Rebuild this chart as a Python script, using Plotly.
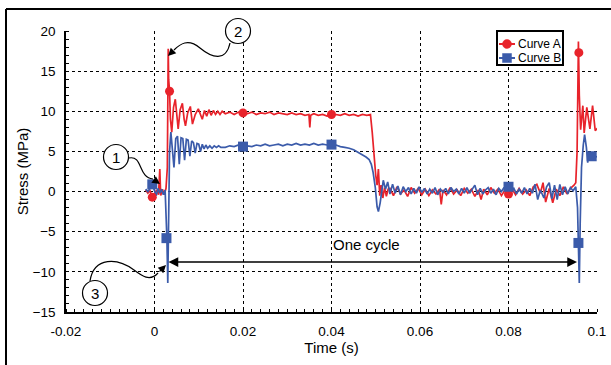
import plotly.graph_objects as go

# ---------------- data ----------------
t_a = [-0.0020, -0.0015, -0.0010, -0.0005, 0.0000, 0.0005, 0.0009, 0.0012, 0.0014, 0.0018, 0.0022, 0.0026,
       0.0029, 0.0031, 0.0032, 0.0034, 0.0036, 0.0039, 0.0043, 0.0047, 0.0051, 0.00535, 0.0058, 0.0063,
       0.0067, 0.0070, 0.0075, 0.0081, 0.00858, 0.0092, 0.0099, 0.0108, 0.0113, 0.0118, 0.0123, 0.0128,
       0.0133, 0.0138, 0.0143, 0.0148, 0.0153, 0.0158,
       0.016, 0.017, 0.018, 0.019, 0.020, 0.021, 0.022, 0.023, 0.024, 0.025, 0.026, 0.027, 0.028, 0.029,
       0.030, 0.031, 0.032, 0.033, 0.034, 0.0349, 0.0351, 0.0353, 0.036, 0.037, 0.038, 0.039, 0.040,
       0.041, 0.042, 0.043, 0.044, 0.045, 0.046, 0.047, 0.048, 0.0488, 0.0492, 0.0496, 0.0500, 0.0503,
       0.0506, 0.0509, 0.0512, 0.0516, 0.0520, 0.0524, 0.0528,
       0.0532, 0.0540, 0.0548, 0.0556, 0.0564, 0.0572, 0.0580, 0.0588, 0.0596, 0.0604, 0.0612, 0.0620,
       0.0628, 0.0636, 0.0644, 0.0648, 0.0652, 0.0660, 0.0668, 0.0676, 0.0684, 0.0692, 0.0700, 0.0708,
       0.0716, 0.0724, 0.0732, 0.0738, 0.0744, 0.0752, 0.0760, 0.0768, 0.0776, 0.0784, 0.0792, 0.0800,
       0.0808, 0.0816, 0.0824, 0.0832, 0.0840, 0.0848, 0.0856, 0.0864, 0.0872, 0.0878, 0.0884, 0.0892,
       0.0900, 0.0908, 0.0916, 0.0924, 0.0932, 0.0940, 0.0948,
       0.0952, 0.0955, 0.0958, 0.0960, 0.0963, 0.0968, 0.0971, 0.0977, 0.0984, 0.0990, 0.0996, 0.1003]
v_a = [0.2, -0.2, 0.1, -0.7, -0.3, 0.2, -0.4, 2.8, -0.5, 0.3, -0.4, 0.4,
       3.0, 17.8, 14.0, 12.5, 9.0, 7.4, 10.5, 11.5, 8.5, 7.8, 10.2, 11.0,
       9.0, 8.2, 9.8, 10.6, 8.4, 9.6, 10.3, 9.0, 10.1, 9.4, 10.2, 9.5,
       10.1, 9.6, 10.0, 9.6, 10.0, 9.7,
       9.7, 9.9, 9.6, 9.9, 9.8, 9.7, 9.9, 9.6, 9.8, 9.7, 9.9, 9.6, 9.8, 9.7,
       9.6, 9.8, 9.6, 9.7, 9.5, 9.6, 8.0, 9.5, 9.7, 9.5, 9.6, 9.4, 9.5,
       9.6, 9.5, 9.7, 9.5, 9.6, 9.4, 9.6, 9.5, 9.6, 7.4, 4.5, 2.0, 0.8,
       2.8, -0.5, 0.8, -0.8, 0.5, -0.6, 0.3,
       0.4, -0.5, 0.6, -0.3, 0.2, -0.6, 0.5, -0.2, 0.4, -0.4, 0.3, -0.5,
       0.2, -0.3, 0.3, -1.6, 0.2, -0.4, 0.5, -0.3, 0.2, -0.5, 0.4, -0.2,
       0.3, -0.6, 0.2, -1.0, 0.3, -0.4, 0.5, -0.2, 0.3, -0.5, 0.2, -0.3,
       0.3, -0.4, 0.4, -0.3, 0.2, -0.5, 0.6, 0.9, -0.2, 1.1, -1.3, 0.4,
       -1.4, 0.3, -0.5, 0.6, -0.3, 0.4, 0.8,
       1.1, 5.0, 18.7, 12.0, 7.7, 10.7, 7.3, 10.5, 7.8, 10.7, 7.6, 8.0]

t_b = [-0.0020, -0.0015, -0.0010, -0.0005, 0.0000, 0.0004, 0.0008, 0.0012, 0.0016, 0.0020, 0.0024,
       0.0026, 0.0028, 0.0030, 0.0032, 0.0034, 0.0037, 0.0040, 0.0044, 0.0048, 0.0052, 0.0056, 0.0060,
       0.0064, 0.0068, 0.0072, 0.0076, 0.0080, 0.0084, 0.0088, 0.0092, 0.0096, 0.0100, 0.0104, 0.0108,
       0.0112, 0.0116, 0.0120, 0.0125, 0.0130, 0.0135, 0.0140, 0.0145, 0.0150,
       0.016, 0.017, 0.018, 0.019, 0.020, 0.021, 0.022, 0.023, 0.024, 0.025, 0.026, 0.027, 0.028,
       0.029, 0.030, 0.031, 0.032, 0.033, 0.034, 0.035, 0.036, 0.037, 0.038, 0.039, 0.040, 0.041,
       0.042, 0.043, 0.044, 0.045, 0.046, 0.047, 0.0478, 0.0485, 0.0490, 0.0494, 0.0499, 0.0503,
       0.0506, 0.0510, 0.0514,
       0.0517, 0.0522, 0.0527, 0.0532, 0.0538, 0.0544, 0.0550, 0.0556, 0.0562, 0.0568, 0.0574, 0.0580,
       0.0586, 0.0592, 0.0598, 0.0604, 0.0610, 0.0616, 0.0622, 0.0628, 0.0634, 0.0640, 0.0646, 0.0652,
       0.0658, 0.0664, 0.0670, 0.0676, 0.0682, 0.0688, 0.0694, 0.0700, 0.0706, 0.0712, 0.0718, 0.0724,
       0.0730, 0.0736, 0.0742, 0.0748, 0.0754, 0.0760, 0.0766, 0.0772, 0.0778, 0.0784, 0.0790, 0.0796,
       0.0800, 0.0806, 0.0812, 0.0818, 0.0824, 0.0830, 0.0836, 0.0842, 0.0848, 0.0854, 0.0860, 0.0866,
       0.0872, 0.0880, 0.0886, 0.0892, 0.0898, 0.0904, 0.0910, 0.0916, 0.0922, 0.0928, 0.0934, 0.0940,
       0.0946, 0.0952,
       0.0956, 0.0958, 0.0960, 0.0962, 0.0965, 0.0969, 0.0972, 0.0976, 0.0979, 0.0982, 0.0986, 0.0988,
       0.0995, 0.1003]
v_b = [0.3, 0.0, 0.4, 0.9, 0.1, -0.5, 0.4, -0.2, 0.3, -0.4, 0.2,
       -2.0, -5.8, -11.4, -1.0, 5.0, 7.4, 5.5, 3.0, 6.6, 6.9, 3.4, 6.7,
       6.6, 3.9, 6.5, 6.4, 4.4, 6.3, 6.1, 4.8, 6.0, 5.9, 5.0, 5.9,
       5.3, 5.8, 5.4, 5.7, 5.4, 5.7, 5.5, 5.7, 5.5,
       5.5, 5.7, 5.6, 5.8, 5.6, 5.7, 5.6, 5.8, 5.7, 5.9, 5.7, 5.8, 5.9,
       5.7, 5.9, 5.8, 6.0, 5.8, 5.9, 5.8, 6.0, 5.8, 5.9, 5.8, 5.85, 5.8,
       5.6, 5.5, 5.4, 5.2, 4.9, 4.5, 4.3, 4.0, 3.4, 2.4, 0.5, -1.9,
       -2.5, -1.4, 0.5,
       1.4, 0.3, 1.2, -0.3, 0.9, -0.2, 0.7, -0.4, 0.6, 0.0, 0.5, -0.3,
       0.4, -0.2, 0.6, -0.1, 0.4, -0.3, 0.3, -0.2, 0.5, -0.4, 0.3, -0.1,
       0.4, -0.3, 0.5, 0.0, 0.3, -0.3, 0.4, -0.2, 0.5, -0.2, 0.3, 0.8,
       -0.4, 0.4, -0.3, 0.2, 0.5, -0.2, 0.3, -0.4, 0.4, 0.0, 0.5, -0.2,
       0.6, 0.0, 0.4, -0.3, 0.3, -0.2, 0.5, -0.3, 0.4, -0.2, 0.9, -1.0,
       0.2, -0.8, 0.6, 1.1, -0.9, 0.8, -1.0, 0.9, -0.4, 0.6, -0.3, 0.5,
       0.1, 0.6,
       -2.0, -6.4, -11.4, -4.0, 3.0, 5.8, 7.1, 5.5, 3.6, 4.9, 4.2, 4.4,
       4.3, 4.4]

mark_t_a = [-0.0005, 0.0034, 0.02, 0.04, 0.08, 0.0959, 0.1003]
mark_v_a = [-0.7, 12.5, 9.8, 9.6, -0.3, 17.3, 8.0]
mark_t_b = [-0.0005, 0.0027, 0.02, 0.04, 0.08, 0.0958, 0.0988]
mark_v_b = [0.9, -5.8, 5.6, 5.85, 0.6, -6.4, 4.4]

series_names = ["Curve A", "Curve B"]
x_ticks = [-0.02, 0, 0.02, 0.04, 0.06, 0.08, 0.1]
x_tick_text = ["-0.02", "0", "0.02", "0.04", "0.06", "0.08", "0.1"]
y_ticks = [-15, -10, -5, 0, 5, 10, 15, 20]

RED = "#E8232B"
BLUE = "#3B5BAA"
FONT = "Liberation Sans, Arial, sans-serif"

fig = go.Figure()
fig.add_trace(go.Scatter(x=t_a, y=v_a, mode="lines", line=dict(color=RED, width=1.7),
                         name=series_names[0], showlegend=False, hoverinfo="skip"))
fig.add_trace(go.Scatter(x=t_b, y=v_b, mode="lines", line=dict(color=BLUE, width=1.7),
                         name=series_names[1], showlegend=False, hoverinfo="skip"))
fig.add_trace(go.Scatter(x=mark_t_a, y=mark_v_a, mode="markers", cliponaxis=False, name=series_names[0],
                         marker=dict(symbol="circle", size=9, color=RED), showlegend=False))
fig.add_trace(go.Scatter(x=mark_t_b, y=mark_v_b, mode="markers", cliponaxis=False, name=series_names[1],
                         marker=dict(symbol="square", size=10, color=BLUE), showlegend=False))

# ---------- annotation geometry (pixel helpers -> paper coords) ----------
L, R, T, B = 66, 597, 31, 312
def px(x):
    return (x - L) / (R - L)
def py(y):
    return (B - y) / (B - T)

shapes = []
# outer frame (left + top edges)
shapes.append(dict(type="line", xref="paper", yref="paper", x0=px(6), x1=px(6), y0=py(9), y1=py(366),
                   line=dict(color="black", width=2)))
shapes.append(dict(type="line", xref="paper", yref="paper", x0=px(6), x1=px(612), y0=py(9), y1=py(9),
                   line=dict(color="black", width=2)))

RAD = 12.5
circles = [("1", 116, 157), ("2", 238, 31), ("3", 95, 293)]
for lab, cx, cy in circles:
    shapes.append(dict(type="circle", xref="paper", yref="paper",
                       x0=px(cx - RAD), x1=px(cx + RAD), y0=py(cy + RAD), y1=py(cy - RAD),
                       line=dict(color="black", width=1.2), fillcolor="white"))

def path(points):
    (x0, y0) = points[0]
    s = f"M {px(x0):.5f},{py(y0):.5f}"
    rest = points[1:]
    for i in range(0, len(rest), 3):
        c1, c2, e = rest[i:i + 3]
        s += f" C {px(c1[0]):.5f},{py(c1[1]):.5f} {px(c2[0]):.5f},{py(c2[1]):.5f} {px(e[0]):.5f},{py(e[1]):.5f}"
    return s

curves = [
    [(129, 158), (143, 155), (138, 178), (153, 179)],
    [(230, 43), (226, 62), (212, 58), (200, 48), (188, 38), (180, 44), (174, 50)],
    [(90, 281), (94, 256), (118, 258), (134, 270), (142, 276), (150, 282), (158, 273)],
]
for c in curves:
    shapes.append(dict(type="path", xref="paper", yref="paper", path=path(c),
                       line=dict(color="black", width=1.2)))

# legend box (drawn by hand to match the compact original)
LG_L, LG_R, LG_T, LG_B = 497, 563, 31, 65
shapes.append(dict(type="rect", xref="paper", yref="paper", x0=px(LG_L), x1=px(LG_R), y0=py(LG_B), y1=py(LG_T),
                   line=dict(color="black", width=2), fillcolor="white"))
rows = [(44, RED, "circle"), (58, BLUE, "square")]
for ry, col, sym in rows:
    shapes.append(dict(type="line", xref="paper", yref="paper", x0=px(499), x1=px(515), y0=py(ry), y1=py(ry),
                       line=dict(color=col, width=2)))
    shapes.append(dict(type="circle" if sym == "circle" else "rect", xref="paper", yref="paper",
                       x0=px(507 - 4.5), x1=px(507 + 4.5), y0=py(ry + 4.5), y1=py(ry - 4.5),
                       line=dict(color=col, width=0.5), fillcolor=col))

annotations = []
for (ry, col, sym), name in zip(rows, series_names):
    annotations.append(dict(xref="paper", yref="paper", x=px(516), y=py(ry), text=name, showarrow=False,
                            xanchor="left", yanchor="middle",
                            font=dict(family=FONT, size=12, color="black")))
for lab, cx, cy in circles:
    annotations.append(dict(xref="paper", yref="paper", x=px(cx), y=py(cy), text=lab, showarrow=False,
                            xanchor="center", yanchor="middle",
                            font=dict(family=FONT, size=15, color="black")))
# arrow heads of the curved leaders
heads = [((153, 179), (160, 184)), ((174, 50), (168, 56)), ((158, 273), (166, 265))]
for (tx, ty), (hx, hy) in heads:
    annotations.append(dict(xref="paper", yref="paper", x=px(hx), y=py(hy), axref="pixel", ayref="pixel",
                            ax=tx - hx, ay=ty - hy, text="", showarrow=True, arrowhead=2,
                            arrowsize=1.3, arrowwidth=1.2, arrowcolor="black"))
# one cycle arrow
annotations.append(dict(xref="paper", yref="paper", x=px(577), y=py(262), ax=167 - 577, ay=0,
                        axref="pixel", ayref="pixel", text="", showarrow=True, arrowhead=2,
                        arrowside="end+start", arrowsize=1.5, arrowwidth=1.3, arrowcolor="black"))
annotations.append(dict(xref="paper", yref="paper", x=px(366), y=py(244), text="One cycle", showarrow=False,
                        xanchor="center", yanchor="middle",
                        font=dict(family=FONT, size=15, color="black")))

fig.update_layout(
    width=611, height=365,
    margin=dict(l=L, r=611 - R, t=T, b=365 - B),
    paper_bgcolor="white", plot_bgcolor="white",
    font=dict(family=FONT, size=13.5, color="black"),
    shapes=shapes, annotations=annotations, showlegend=False,
)
fig.update_xaxes(range=[-0.02, 0.1], tickvals=x_ticks, ticktext=x_tick_text, automargin=False,
                 showgrid=True, gridcolor="black", griddash="dot", gridwidth=1,
                 showline=True, linecolor="black", linewidth=1.5, zeroline=False,
                 ticks="", ticklabelstandoff=6,
                 minor=dict(ticks="inside", ticklen=3, dtick=0.002, tickcolor="black", showgrid=False),
                 title=dict(text="Time (s)", font=dict(size=15, family=FONT), standoff=4))
fig.update_yaxes(range=[-15, 20], tickvals=y_ticks, automargin=False,
                 showgrid=True, gridcolor="black", griddash="dot", gridwidth=1,
                 showline=True, linecolor="black", linewidth=1.5, zeroline=False,
                 ticks="", ticklabelstandoff=6,
                 minor=dict(ticks="inside", ticklen=3, dtick=1, tickcolor="black", showgrid=False),
                 title=dict(text="Stress (MPa)", font=dict(size=15, family=FONT), standoff=0))

fig.write_html("out.html", config={"displayModeBar": False},
               post_script="document.body.style.margin='0';document.body.style.overflow='hidden';")
